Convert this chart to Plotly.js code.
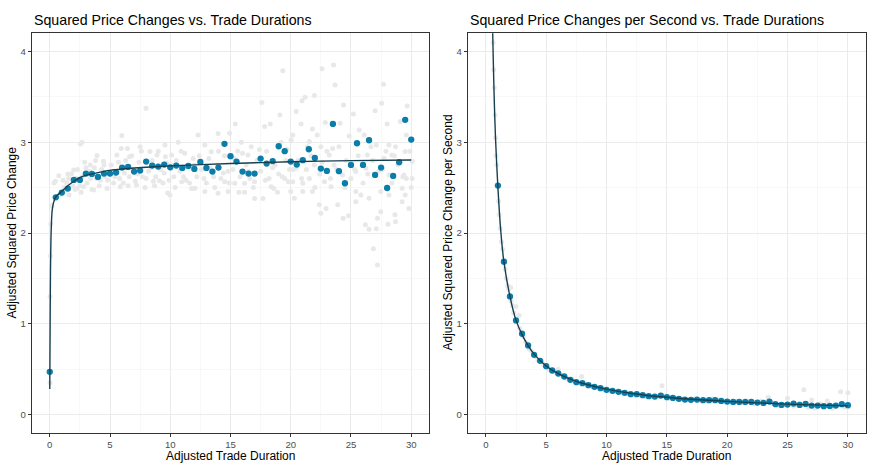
<!DOCTYPE html>
<html>
<head>
<meta charset="utf-8">
<script src="https://cdn.plot.ly/plotly-3.0.1.min.js"></script>
<style>html,body{margin:0;padding:0;background:#fff;}#chart{width:872px;height:476px;}</style>
</head>
<body>
<div id="chart"></div>
<script>
// ---------- Data ----------
// Binned means (blue points), x = 0, 0.5, ..., 30
const binX = [0,0.5,1,1.5,2,2.5,3,3.5,4,4.5,5,5.5,6,6.5,7,7.5,8,8.5,9,9.5,10,10.5,11,11.5,12,12.5,13,13.5,14,14.5,15,15.5,16,16.5,17,17.5,18,18.5,19,19.5,20,20.5,21,21.5,22,22.5,23,23.5,24,24.5,25,25.5,26,26.5,27,27.5,28,28.5,29,29.5,30];
const binSq = [0.47,2.393,2.445,2.489,2.585,2.585,2.655,2.651,2.618,2.655,2.655,2.666,2.721,2.728,2.677,2.688,2.787,2.743,2.732,2.754,2.724,2.743,2.717,2.739,2.706,2.783,2.717,2.677,2.721,2.982,2.846,2.787,2.677,2.655,2.655,2.820,2.765,2.791,2.956,2.901,2.787,2.754,2.802,2.923,2.827,2.710,2.684,3.202,2.681,2.548,2.750,2.989,2.750,3.022,2.640,2.721,2.496,2.629,2.780,3.247,3.029];

// Right panel binned means, x = 1, 1.5, ..., 30
const binXps = [1,1.5,2,2.5,3,3.5,4,4.5,5,5.5,6,6.5,7,7.5,8,8.5,9,9.5,10,10.5,11,11.5,12,12.5,13,13.5,14,14.5,15,15.5,16,16.5,17,17.5,18,18.5,19,19.5,20,20.5,21,21.5,22,22.5,23,23.5,24,24.5,25,25.5,26,26.5,27,27.5,28,28.5,29,29.5,30];
const binPs = [2.522,1.684,1.301,1.037,0.890,0.761,0.658,0.592,0.533,0.485,0.452,0.419,0.382,0.356,0.345,0.323,0.305,0.290,0.272,0.261,0.250,0.239,0.224,0.224,0.213,0.202,0.198,0.209,0.191,0.183,0.173,0.165,0.162,0.165,0.158,0.158,0.158,0.150,0.143,0.139,0.139,0.139,0.139,0.132,0.128,0.143,0.114,0.106,0.110,0.121,0.106,0.117,0.099,0.099,0.092,0.095,0.099,0.114,0.103];

// Fitted curves
const fitSqX = [0,0.03,0.06,0.1,0.15,0.2,0.3,0.4,0.5,1,1.5,2,2.5,3,4,5,6,8,10,15,20,25,30];
const fitSqY = [0.28,1.0,1.6,1.95,2.15,2.25,2.33,2.37,2.40,2.46,2.52,2.57,2.61,2.635,2.665,2.69,2.705,2.725,2.74,2.765,2.785,2.797,2.805];
const fitPsX = [0.5,0.55,0.6,0.7,0.8,1.0,1.25,1.5,2,2.5,3,3.5,4,5,6,7,8,10,12,15,20,25,30];
const fitPsY = [4.8,4.35,4.0,3.45,3.05,2.5,2.0,1.68,1.30,1.04,0.88,0.76,0.665,0.535,0.45,0.39,0.345,0.28,0.235,0.19,0.145,0.115,0.095];

// Raw observations (grey points), left panel
const rawSqX = [0.02,0.03,0.05,0.08,0.12,0.2,0.35,0.47,0.75,1.57,1.98,2.68,2.55,3.92,5.98,7.99,5.93,6.45,7.5,3.36,4.46,5.57,6.62,8.32,8.9,9.6,9.98,3.64,4.75,5.85,7.2,8.6,9.1,2.26,2.8,1.2,0.88,
19.34,17.6,19.1,17.83,18.3,15.4,13.97,14.93,12.31,10.66,9.56,12.87,15.9,16.72,19.2,20.03,10.11,11.2,13.4,16.45,17.0,16.17,15.35,14.52,12.04,12.87,13.97,14.8,16.17,17.0,17.7,18.38,18.6,9.79,11.77,10.95,19.5,19.8,
22.6,23.55,23.67,27.69,29.67,21.19,21.96,20.94,20.45,24.38,25.2,27.0,27.55,20.86,22.87,24.1,28.0,29.1,29.6,21.8,22.2,24.85,25.68,26.1,28.15,28.7,20.17,21.55,22.5,23.47,26.65,27.1,29.5,20.45,21.96,23.2,23.6,26.36,27.74,28.4,30.08,30.08,29.4,28.16,26.23,25.4,24.3,21.55,21.0,20.17,22.8,23.34,21.8,21.0,20.3,22.37,22.5,22.93,23.9,24.35,24.8,25.4,25.82,26.5,26.2,26.5,27.1,27.2,27.47,26.86,27.2,28.07,28.65,28.7,29.25,29.5,29.8,28.15,27.47,29.25,25.4,20.0,
1.2,1.4,1.6,1.8,2.1,2.3,2.5,2.7,2.9,3.1,3.3,3.5,3.7,3.9,4.1,4.3,4.6,4.8,5.1,5.3,5.6,5.8,6.1,6.3,6.6,6.9,7.1,7.4,7.7,7.9,8.2,8.5,8.8,9.2,9.4,9.7,10.3,10.5,10.8,11.3,11.5,11.9,12.2,12.6,13.0,13.2,13.6,13.9,14.2,14.5,14.8,15.2,15.6,15.8,16.3,16.6,17.2,17.5,18.0,18.2,18.7,19.0,19.6,19.9,
20.6,21.3,21.7,22.4,23.0,23.8,24.6,25.0,25.6,26.0,26.8,27.3,27.9,28.4,28.9,29.3,29.9,30.0,
1.1,1.5,1.9,2.2,2.6,3.0,3.4,3.8,4.2,4.5,4.9,5.4,5.7,6.2,6.5,6.8,7.3,7.6,8.0,8.4,8.7,9.0,9.5,9.9,10.1,10.4,10.9,11.1,11.6,12.0,12.4,12.8,13.3,13.7,14.0,14.4,14.9,15.3,15.7,16.0,16.5,16.9,17.4,17.9,18.5,18.9,19.3,19.7,20.2,20.9,21.4,22.0,22.6,23.3,24.0,24.5,25.3,26.4,27.6,28.6,29.6];
const rawSqY = [0.35,1.3,1.75,2.1,2.3,2.3,2.55,2.57,2.63,2.60,2.695,3.0,2.98,2.853,3.073,3.375,2.93,2.93,2.95,2.75,2.79,2.86,2.84,2.897,2.86,2.84,2.42,2.474,2.49,2.51,2.53,2.57,2.575,2.49,2.51,2.455,2.42,
3.787,3.437,3.30,3.173,3.20,3.20,3.095,3.10,3.08,3.0,2.97,2.97,3.0,2.95,3.0,3.025,2.86,2.88,2.895,2.86,2.566,2.548,2.548,2.566,2.493,2.456,2.438,2.456,2.45,2.38,2.38,2.51,2.49,2.44,2.49,2.566,2.60,2.566,
3.81,3.85,3.63,3.64,3.40,3.497,3.515,3.456,3.338,3.41,3.31,3.346,3.43,3.20,3.217,3.21,3.20,3.228,3.08,3.147,3.08,3.07,3.136,3.08,2.97,2.95,3.08,3.007,2.95,2.93,2.95,2.97,2.897,2.713,2.75,2.86,2.75,2.86,2.824,2.86,2.787,2.60,2.64,2.64,2.713,2.677,2.64,2.60,2.548,2.566,2.566,2.51,2.456,2.456,2.383,2.31,2.217,2.27,2.31,2.162,2.19,2.345,2.42,2.383,2.09,2.04,2.048,2.162,2.235,1.827,1.647,2.096,2.2,2.125,2.345,2.42,2.27,2.42,2.456,2.493,2.456,2.456,
2.5,2.55,2.42,2.65,2.48,2.7,2.52,2.62,2.78,2.55,2.68,2.48,2.72,2.6,2.52,2.7,2.62,2.58,2.75,2.55,2.68,2.6,2.55,2.8,2.62,2.7,2.57,2.78,2.62,2.5,2.68,2.8,2.62,2.7,2.55,2.77,2.62,2.8,2.68,2.58,2.72,2.82,2.62,2.7,2.55,2.82,2.62,2.75,2.6,2.85,2.68,2.7,2.9,2.62,2.75,2.6,2.8,2.68,2.9,2.6,2.75,2.65,2.8,2.7,
2.8,2.7,2.85,2.65,2.9,2.7,2.8,2.6,2.85,2.55,2.8,2.68,2.9,2.55,2.75,2.62,2.9,2.5,
2.58,2.65,2.52,2.6,2.45,2.72,2.6,2.8,2.58,2.75,2.68,2.62,2.78,2.66,2.52,2.85,2.65,2.9,2.6,2.72,2.52,2.9,2.66,2.58,2.75,2.5,2.9,2.62,2.55,2.75,2.85,2.6,2.72,2.5,2.9,2.66,2.55,2.82,2.45,2.88,2.68,2.5,2.92,2.58,2.72,2.45,2.62,2.92,2.7,2.6,2.95,2.5,2.78,2.6,2.95,2.5,2.7,2.65,2.7,2.85,2.6];

// Raw observations (grey points), right panel
const rawPsX = [0.6,0.65,0.7,0.75,0.8,0.85,0.9,1.05,1.1,1.2,1.3,1.4,1.6,1.7,1.8,1.9,2.05,2.1,2.2,2.3,2.5,2.6,2.75,2.8,3.1,3.3,3.6,3.8,4.1,4.3,4.6,4.8,5.2,5.5,5.8,6.0,6.3,6.7,7.2,7.5,7.94,8.2,8.8,9.3,9.8,10.3,10.8,11.3,11.8,12.3,12.8,13.3,13.8,14.2,14.6,15.2,15.8,16.3,16.8,17.3,17.8,18.3,18.8,19.3,19.8,20.3,20.8,21.3,21.8,22.3,22.8,23.4,23.8,24.3,24.8,25.0,25.5,26.0,26.35,26.7,27.0,27.3,27.7,28.0,28.3,28.7,29.0,29.4,29.7,30.0,30.0];
const rawPsY = [4.1,3.8,3.6,3.3,3.05,2.85,2.75,2.35,2.2,2.05,1.9,1.82,1.6,1.5,1.42,1.38,1.4,1.25,1.2,1.12,1.19,1.02,1.09,0.95,0.86,0.8,0.72,0.7,0.64,0.6,0.58,0.55,0.5,0.48,0.46,0.5,0.43,0.4,0.38,0.36,0.42,0.34,0.31,0.3,0.28,0.26,0.25,0.24,0.23,0.22,0.21,0.2,0.2,0.19,0.316,0.18,0.17,0.17,0.16,0.17,0.155,0.15,0.17,0.15,0.14,0.135,0.15,0.13,0.14,0.12,0.15,0.19,0.12,0.1,0.11,0.18,0.09,0.12,0.272,0.08,0.16,0.07,0.12,0.08,0.15,0.07,0.1,0.25,0.08,0.239,0.08];

// Tick labels
const xTicks = [0,5,10,15,20,25,30];
const yTicks = [0,1,2,3,4];

// ---------- Styles ----------
const GREY = '#E8E8E8', BLUE = '#0A7DA8', LINE = '#173F4F';
const FONT = 'Liberation Sans, Arial, Helvetica, sans-serif';

const traces = [
  {x: rawSqX, y: rawSqY, type:'scatter', mode:'markers', marker:{color:GREY, size:5}, xaxis:'x', yaxis:'y', hoverinfo:'skip'},
  {x: binX, y: binSq, type:'scatter', mode:'markers', marker:{color:BLUE, size:6.3}, xaxis:'x', yaxis:'y'},
  {x: fitSqX, y: fitSqY, type:'scatter', mode:'lines', line:{color:LINE, width:1.4, shape:'spline', smoothing:0.6}, xaxis:'x', yaxis:'y'},
  {x: rawPsX, y: rawPsY, type:'scatter', mode:'markers', marker:{color:GREY, size:5}, xaxis:'x2', yaxis:'y2', hoverinfo:'skip'},
  {x: binXps, y: binPs, type:'scatter', mode:'markers', marker:{color:BLUE, size:6.3}, xaxis:'x2', yaxis:'y2'},
  {x: fitPsX, y: fitPsY, type:'scatter', mode:'lines', line:{color:LINE, width:1.4, shape:'spline', smoothing:0.8}, xaxis:'x2', yaxis:'y2'}
];

function xax(dom){
  return {domain:dom, range:[-1.5,31.5], tickmode:'array', tickvals:xTicks, ticktext:xTicks.map(String),
    showgrid:true, gridcolor:'#EBEBEB', gridwidth:1,
    minor:{tickmode:'linear', tick0:0, dtick:2.5, showgrid:true, gridcolor:'#F3F3F3', gridwidth:0.6},
    zeroline:false, showline:true, mirror:true, linecolor:'#333333', linewidth:1,
    ticks:'outside', ticklen:3, tickwidth:1, tickcolor:'#333333',
    tickfont:{family:FONT, size:9.6, color:'#4D4D4D'}, fixedrange:true};
}
function yax(anchor){
  return {domain:[0.091,0.930], anchor:anchor, range:[-0.2,4.2], tickmode:'array', tickvals:yTicks, ticktext:yTicks.map(String),
    showgrid:true, gridcolor:'#EBEBEB', gridwidth:1,
    minor:{tickmode:'linear', tick0:0, dtick:0.5, showgrid:true, gridcolor:'#F3F3F3', gridwidth:0.6},
    zeroline:false, showline:true, mirror:true, linecolor:'#333333', linewidth:1,
    ticks:'outside', ticklen:3, tickwidth:1, tickcolor:'#333333',
    tickfont:{family:FONT, size:9.6, color:'#4D4D4D'}, fixedrange:true};
}

const layout = {
  width:872, height:476, margin:{l:0,r:0,t:0,b:0}, showlegend:false,
  paper_bgcolor:'#FFFFFF', plot_bgcolor:'#FFFFFF',
  font:{family:FONT},
  xaxis: Object.assign(xax([0.03635,0.4923]), {anchor:'y'}),
  yaxis: yax('x'),
  xaxis2: Object.assign(xax([0.5364,0.9931]), {anchor:'y2'}),
  yaxis2: yax('x2'),
  annotations:[
    {text:'Squared Price Changes vs. Trade Durations', xref:'paper', yref:'paper', x:0.03635, y:0.958, xanchor:'left', yanchor:'middle', showarrow:false, font:{size:14.2, color:'#000000', family:FONT}},
    {text:'Squared Price Changes per Second vs. Trade Durations', xref:'paper', yref:'paper', x:0.5364, y:0.958, xanchor:'left', yanchor:'middle', showarrow:false, font:{size:14.2, color:'#000000', family:FONT}},
    {text:'Adjusted Trade Duration', xref:'paper', yref:'paper', x:0.2643, y:0.041, xanchor:'center', yanchor:'middle', showarrow:false, font:{size:12, color:'#000000', family:FONT}},
    {text:'Adjusted Trade Duration', xref:'paper', yref:'paper', x:0.7647, y:0.041, xanchor:'center', yanchor:'middle', showarrow:false, font:{size:12, color:'#000000', family:FONT}},
    {text:'Adjusted Squared Price Change', xref:'paper', yref:'paper', x:0.0132, y:0.5105, xanchor:'center', yanchor:'middle', textangle:-90, showarrow:false, font:{size:12, color:'#000000', family:FONT}},
    {text:'Adjusted Squared Price Change per Second', xref:'paper', yref:'paper', x:0.5132, y:0.5105, xanchor:'center', yanchor:'middle', textangle:-90, showarrow:false, font:{size:12, color:'#000000', family:FONT}}
  ]
};

Plotly.newPlot('chart', traces, layout, {staticPlot:true, displayModeBar:false});
</script>
</body>
</html>
